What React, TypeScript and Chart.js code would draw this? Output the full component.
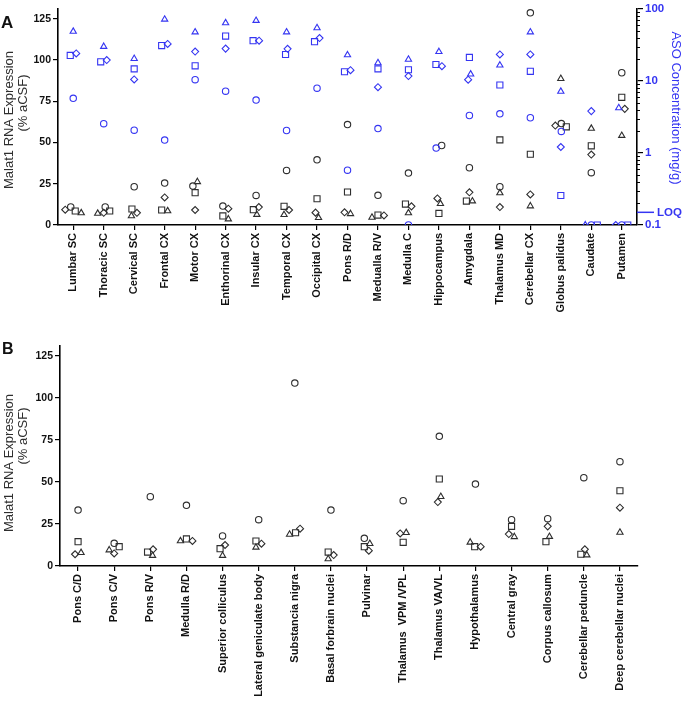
import React, { useEffect, useRef } from "react";
import { Chart, registerables } from "chart.js";
Chart.register(...registerables);

// ---------------- Data ----------------
const regionsA = [
  "Lumbar SC", "Thoracic SC", "Cervical SC", "Frontal CX", "Motor CX", "Enthorinal CX",
  "Insular CX", "Temporal CX", "Occipital CX", "Pons R/D", "Medualla R/V", "Medulla C",
  "Hippocampus", "Amygdala", "Thalamus MD", "Cerebellar CX", "Globus palidus", "Caudate", "Putamen",
];

// Malat1 RNA expression (% aCSF), panel A, one array per animal (marker shape)
const rnaA_circle = [10.9, 10.9, 23.2, 25.4, 23.6, 11.5, 17.9, 33.1, 39.5, 60.9, 18.0, 31.5, 48.2, 34.7, 23.2, 128.6, 61.5, 31.7, 92.3];
const rnaA_square = [8.5, 8.5, 9.7, 9.1, 19.6, 5.5, 9.3, 11.3, 15.9, 20.0, 6.0, 12.7, 7.0, 14.5, 51.6, 42.9, 59.5, 48.0, 77.4];
const rnaA_diamond = [9.3, 7.4, 7.4, 16.7, 9.1, 9.9, 10.9, 9.1, 7.5, 7.7, 5.8, 11.3, 16.1, 19.8, 10.9, 18.5, 60.3, 42.7, 70.4];
const rnaA_triangle = [7.3, 7.0, 5.5, 8.5, 26.2, 3.6, 6.3, 6.2, 4.4, 6.8, 4.6, 7.3, 12.9, 14.5, 19.4, 11.5, 88.7, 58.5, 54.2];

// ASO concentration (mg/g), panel A; BLQ = below limit of quantification (plotted on the axis floor)
const BLQ = 0.1;
const LOQ = 0.15;
const asoA_circle = [5.73, 2.55, 2.07, 1.51, 10.4, 7.21, 5.43, 2.05, 7.93, 0.577, 2.18, BLQ, 1.17, 3.31, 3.5, 3.08, 1.99, BLQ, BLQ];
const asoA_square = [22.6, 18.4, 14.7, 31.0, 16.2, 42.0, 36.2, 23.3, 35.1, 13.4, 14.7, 14.3, 16.9, 21.2, 8.79, 13.6, 0.257, BLQ, BLQ];
const asoA_diamond = [24.1, 19.5, 10.5, 32.6, 25.6, 28.1, 36.2, 27.9, 39.4, 14.1, 8.18, 11.7, 16.0, 10.4, 23.3, 23.3, 1.21, 3.81, BLQ];
const asoA_triangle = [48.6, 30.0, 20.4, 71.6, 47.6, 63.8, 68.8, 47.6, 54.5, 22.9, 17.8, 19.9, 25.4, 12.4, 16.5, 47.6, 7.14, BLQ, 4.22];

const regionsB = [
  "Pons C/D", "Pons C/V", "Pons R/V", "Medulla R/D", "Superior colliculus", "Lateral geniculate body",
  "Substancia nigra", "Basal forbrain nuclei", "Pulvinar", "Thalamus  VPM /VPL", "Thalamus VA/VL",
  "Hypothalamus", "Central gray", "Corpus callosum", "Cerebellar peduncle", "Deep cerebellar nuclei",
];
const rnaB_circle = [33.3, 13.5, 41.3, 36.1, 17.9, 27.6, 108.9, 33.3, 16.5, 38.9, 77.2, 48.8, 27.6, 28.2, 52.6, 62.1];
const rnaB_square = [14.5, 11.5, 8.3, 16.1, 10.3, 14.9, 19.8, 8.3, 11.5, 14.1, 51.8, 11.5, 23.6, 14.5, 7.0, 44.8];
const rnaB_diamond = [7.0, 7.5, 9.9, 14.9, 12.5, 13.3, 22.2, 6.5, 9.1, 19.4, 38.1, 11.5, 19.0, 23.6, 9.9, 34.7];
const rnaB_triangle = [7.9, 9.5, 6.2, 14.9, 6.2, 11.1, 18.8, 4.2, 13.3, 19.8, 41.3, 14.1, 17.4, 17.5, 6.5, 20.0];

const rnaTicks = [0, 25, 50, 75, 100, 125];
const asoTicks = [0.1, 1, 10, 100];

// ---------------- Styling ----------------
const FONT = "'Liberation Sans', Arial, Helvetica, sans-serif";
const BLUE = "#3535f2";
const DARK = "#2e2e2e";
const SHAPES = ["circle", "rect", "rectRot", "triangle"] as const;
const RADIUS: Record<string, number> = { circle: 3.2, rect: 4.3, rectRot: 3.5, triangle: 3.6 };

type Series = { vals: number[]; toPx: (v: number) => number };

// beeswarm-like horizontal spreading of overlapping points (in px)
function swarm(series: Series[], nCat: number, D: number): number[][] {
  const out = series.map((s) => s.vals.map(() => 0));
  for (let c = 0; c < nCat; c++) {
    const items: { s: number; py: number }[] = [];
    series.forEach((s, si) => {
      const v = s.vals[c];
      if (v != null) items.push({ s: si, py: s.toPx(v) });
    });
    const sorted = [...items].sort((a, b) => a.py - b.py);
    const clusters: { s: number; py: number }[][] = [];
    for (const it of sorted) {
      const last = clusters[clusters.length - 1];
      if (last && it.py - last[last.length - 1].py < D) last.push(it);
      else clusters.push([it]);
    }
    for (const cl of clusters) {
      const placed: { ox: number; py: number; s: number }[] = [];
      const ordered = [...cl].sort((a, b) => a.s - b.s);
      for (const it of ordered) {
        let ox = 0;
        for (let k = 0; k < 400; k++) {
          const step = Math.ceil(k / 2) * 0.5;
          const cand = k === 0 ? 0 : k % 2 === 1 ? step : -step;
          if (placed.every((p) => Math.hypot(cand - p.ox, it.py - p.py) >= D)) {
            ox = cand;
            break;
          }
        }
        placed.push({ ox, py: it.py, s: it.s });
      }
      const mn = Math.min(...placed.map((p) => p.ox));
      const mx = Math.max(...placed.map((p) => p.ox));
      const mid = (mn + mx) / 2;
      placed.forEach((p) => {
        out[p.s][c] = p.ox - mid;
      });
    }
  }
  return out;
}

function makeDatasets(series: number[][], offsets: number[][], catW: number, color: string, yAxisID: string) {
  return series.map((vals, si) => {
    const shape = SHAPES[si];
    return {
      type: "scatter" as const,
      label: `${yAxisID}-${shape}`,
      yAxisID,
      data: vals.map((v, c) => ({ x: c + offsets[si][c] / catW, y: v })),
      pointStyle: shape,
      pointRadius: RADIUS[shape],
      pointHoverRadius: RADIUS[shape],
      borderColor: color,
      backgroundColor: "rgba(0,0,0,0)",
      pointBorderWidth: 1.1,
      showLine: false,
    };
  });
}

const tickFont = { family: FONT, weight: "bold" as const, size: 10.5 };
const catFont = { family: FONT, weight: "bold" as const, size: 11 };

function xScale(labels: string[], height: number) {
  return {
    type: "linear" as const,
    min: -0.5,
    max: labels.length - 0.5,
    afterBuildTicks: (s: any) => {
      s.ticks = labels.map((_, i) => ({ value: i }));
    },
    afterFit: (s: any) => {
      s.height = height;
    },
    ticks: {
      autoSkip: false,
      minRotation: 90,
      maxRotation: 90,
      padding: 3,
      color: "#111",
      font: catFont,
      callback: (v: any) => labels[v],
    },
    grid: { drawOnChartArea: false, drawTicks: true, tickLength: 5, color: "#000", lineWidth: 1.2 },
    border: { display: true, color: "#000", width: 1.6 },
  };
}

function yScale(width: number) {
  return {
    type: "linear" as const,
    position: "left" as const,
    min: 0,
    max: 131,
    afterBuildTicks: (s: any) => {
      s.ticks = rnaTicks.map((v) => ({ value: v }));
    },
    afterFit: (s: any) => {
      s.width = width;
    },
    ticks: { color: "#111", font: tickFont, padding: 2 },
    grid: { drawOnChartArea: false, drawTicks: true, tickLength: 5, color: "#000", lineWidth: 1.2 },
    border: { display: true, color: "#000", width: 1.6 },
  };
}

function drawRotated(ctx: CanvasRenderingContext2D, text: string, x: number, y: number, angle: number, font: string, color: string) {
  ctx.save();
  ctx.translate(x, y);
  ctx.rotate(angle);
  ctx.font = font;
  ctx.fillStyle = color;
  ctx.textAlign = "center";
  ctx.textBaseline = "middle";
  ctx.fillText(text, 0, 0);
  ctx.restore();
}

export default function App() {
  const refA = useRef<HTMLCanvasElement>(null);
  const refB = useRef<HTMLCanvasElement>(null);

  useEffect(() => {
    // ---------- Panel A ----------
    const hA = 330;
    const topA = 5;
    const botA = 225;
    const plotHA = botA - topA;
    const catWA = (637 - 58) / regionsA.length;
    const linA = (v: number) => (v / 131) * plotHA;
    const logA = (v: number) => ((Math.log10(v) + 1) / 3) * plotHA;
    const seriesBlackA = [rnaA_circle, rnaA_square, rnaA_diamond, rnaA_triangle];
    const seriesBlueA = [asoA_circle, asoA_square, asoA_diamond, asoA_triangle];
    const allA: Series[] = [
      ...seriesBlueA.map((vals) => ({ vals, toPx: logA })),
      ...seriesBlackA.map((vals) => ({ vals, toPx: linA })),
    ];
    const offA = swarm(allA, regionsA.length, 6);
    const dsA = [
      ...makeDatasets(seriesBlueA, offA.slice(0, 4), catWA, BLUE, "yR"),
      ...makeDatasets(seriesBlackA, offA.slice(4), catWA, DARK, "y"),
    ];

    const decorA = {
      id: "decorA",
      afterDraw(chart: any) {
        const ctx: CanvasRenderingContext2D = chart.ctx;
        const area = chart.chartArea;
        const yR = chart.scales.yR;
        ctx.save();
        ctx.fillStyle = "#111";
        ctx.font = `bold 17px ${FONT}`;
        ctx.textAlign = "left";
        ctx.textBaseline = "alphabetic";
        ctx.fillText("A", 1, 28);
        drawRotated(ctx, "Malat1 RNA Expression", 9, 120, -Math.PI / 2, `13px ${FONT}`, DARK);
        drawRotated(ctx, "(% aCSF)", 23, 103, -Math.PI / 2, `13px ${FONT}`, DARK);
        drawRotated(ctx, "ASO Concentration (mg/g)", 676, 108, Math.PI / 2, `13px ${FONT}`, BLUE);
        // minor log ticks
        ctx.strokeStyle = "#000";
        ctx.lineWidth = 1;
        for (const d of [0.1, 1, 10]) {
          for (let m = 2; m <= 9; m++) {
            const y = Math.round(yR.getPixelForValue(d * m)) + 0.5;
            ctx.beginPath();
            ctx.moveTo(area.right, y);
            ctx.lineTo(area.right + 3, y);
            ctx.stroke();
          }
        }
        // LOQ marker
        const yl = yR.getPixelForValue(LOQ);
        ctx.strokeStyle = BLUE;
        ctx.lineWidth = 1.5;
        ctx.beginPath();
        ctx.moveTo(area.right, yl);
        ctx.lineTo(area.right + 17, yl);
        ctx.stroke();
        ctx.fillStyle = BLUE;
        ctx.font = `bold 11.5px ${FONT}`;
        ctx.textBaseline = "middle";
        ctx.fillText("LOQ", area.right + 20, yl + 1);
        ctx.restore();
      },
    };

    const chartA = new Chart(refA.current!, {
      type: "scatter",
      data: { datasets: dsA as any },
      options: {
        animation: false,
        responsive: false,
        devicePixelRatio: 1,
        layout: { padding: { top: topA, left: 0, right: 0, bottom: 0 } },
        plugins: { legend: { display: false }, tooltip: { enabled: false } },
        scales: {
          x: xScale(regionsA, hA - botA) as any,
          y: yScale(58) as any,
          yR: {
            type: "logarithmic",
            position: "right",
            min: 0.1,
            max: 100,
            afterBuildTicks: (s: any) => {
              s.ticks = asoTicks.map((v) => ({ value: v, major: true }));
            },
            afterFit: (s: any) => {
              s.width = 683 - 637;
            },
            ticks: {
              color: BLUE,
              font: { family: FONT, weight: "bold", size: 11.5 },
              padding: 2,
              callback: (v: any) => String(v),
            },
            grid: { drawOnChartArea: false, drawTicks: true, tickLength: 6, color: "#000", lineWidth: 1.2 },
            border: { display: true, color: "#000", width: 1.6 },
          } as any,
        },
      },
      plugins: [decorA],
    });

    // ---------- Panel B ----------
    const hB = 372;
    const topB = 16;
    const botB = 236;
    const plotHB = botB - topB;
    const catWB = (638 - 60) / regionsB.length;
    const linB = (v: number) => (v / 131) * plotHB;
    const seriesB = [rnaB_circle, rnaB_square, rnaB_diamond, rnaB_triangle];
    const offB = swarm(seriesB.map((vals) => ({ vals, toPx: linB })), regionsB.length, 6);
    const dsB = makeDatasets(seriesB, offB, catWB, DARK, "y");

    const decorB = {
      id: "decorB",
      afterDraw(chart: any) {
        const ctx: CanvasRenderingContext2D = chart.ctx;
        ctx.save();
        ctx.fillStyle = "#111";
        ctx.font = `bold 16px ${FONT}`;
        ctx.textAlign = "left";
        ctx.textBaseline = "alphabetic";
        ctx.fillText("B", 2, 24);
        drawRotated(ctx, "Malat1 RNA Expression", 9, 133, -Math.PI / 2, `13px ${FONT}`, DARK);
        drawRotated(ctx, "(% aCSF)", 23, 106, -Math.PI / 2, `13px ${FONT}`, DARK);
        ctx.restore();
      },
    };

    const chartB = new Chart(refB.current!, {
      type: "scatter",
      data: { datasets: dsB as any },
      options: {
        animation: false,
        responsive: false,
        devicePixelRatio: 1,
        layout: { padding: { top: topB, left: 0, right: 683 - 638, bottom: 0 } },
        plugins: { legend: { display: false }, tooltip: { enabled: false } },
        scales: {
          x: xScale(regionsB, hB - botB) as any,
          y: yScale(60) as any,
        },
      },
      plugins: [decorB],
    });

    return () => {
      chartA.destroy();
      chartB.destroy();
    };
  }, []);

  return (
    <div style={{ position: "absolute", left: 0, top: 0, width: 683, height: 702, background: "#fff" }}>
      <canvas ref={refA} width={683} height={330} style={{ position: "absolute", left: 0, top: 0, width: 683, height: 330 }} />
      <canvas ref={refB} width={683} height={372} style={{ position: "absolute", left: 0, top: 330, width: 683, height: 372 }} />
    </div>
  );
}
